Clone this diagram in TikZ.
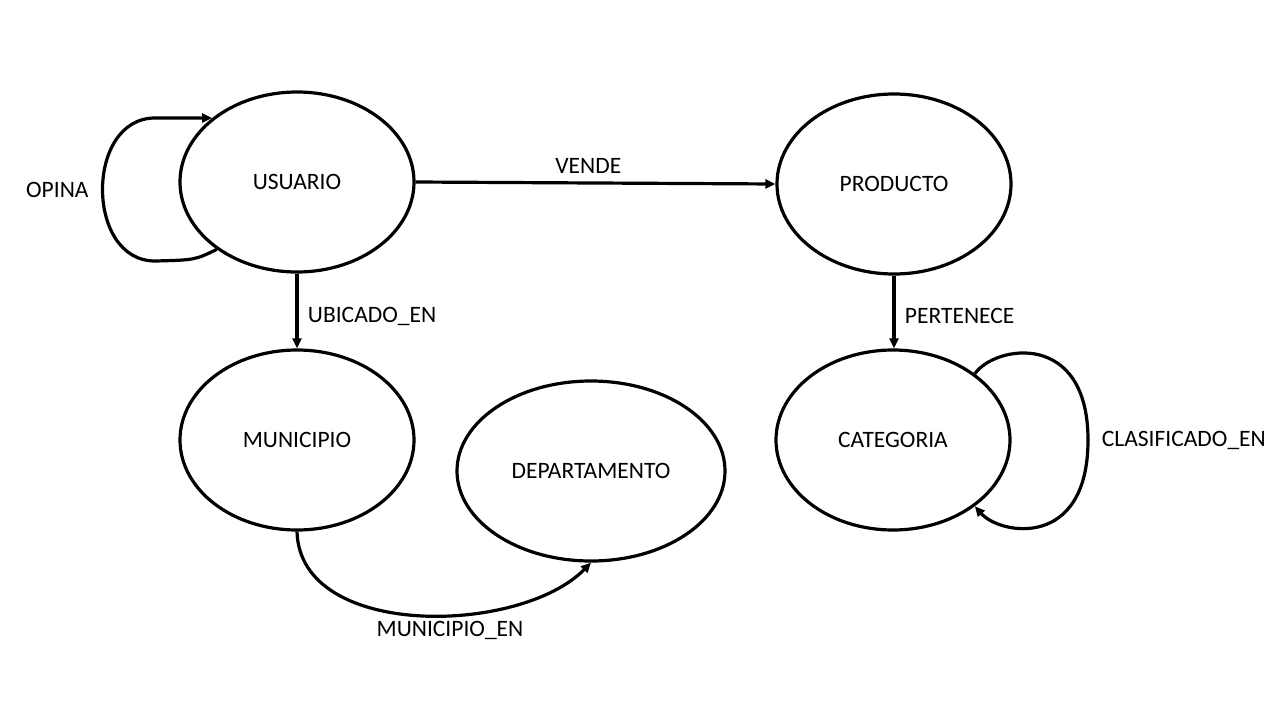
\documentclass[tikz,border=0pt]{standalone}
\usepackage{fontspec}
\setmainfont{Carlito}
\usetikzlibrary{arrows.meta,positioning,shapes.geometric}

\begin{document}
\begin{tikzpicture}[x=1pt,y=-1pt,
    entity/.style={draw, ellipse, line width=3.2pt, inner sep=0pt,
        minimum width=234pt, minimum height=180pt},
    rel/.style={line width=3.2pt, -{Triangle[length=10pt,width=9pt]}},
    every node/.style={font=\fontsize{23.5}{28}\selectfont}]
    % Canvas
    \useasboundingbox (0,0) rectangle (1280,720);
    \fill[white] (0,0) rectangle (1280,720);

    % Entities
    \node[entity] (usuario) at (297,182) {USUARIO};
    \node[entity] (producto) at (894,184) {PRODUCTO};
    \node[entity] (municipio) at (297,440) {MUNICIPIO};
    \node[entity, minimum width=268pt] (departamento) at (591,471) {DEPARTAMENTO};
    \node[entity] (categoria) at (893,440) {CATEGORIA};

    % Relations
    \draw[rel] (usuario.east) -- (producto.west) node[pos=0.48, above=5pt] {VENDE};
    \draw[rel] (usuario.south) -- (municipio.south |- municipio.north)
        node[pos=0.57, right=6pt] {UBICADO\_EN};
    \draw[rel] (producto.south) -- (categoria.north -| producto.south)
        node[pos=0.55, right=6pt] {PERTENECE};
    \draw[rel] (municipio.south) .. controls (300,640) and (520,635) .. (departamento.south);
    \node (munen) at (450,630) {MUNICIPIO\_EN};

    % Self loops
    \draw[rel] (usuario.220) .. controls (195,260) .. (155,261)
        .. controls (85,261) and (85,118) .. node[pos=0.5, left=9pt] {OPINA} (155,118)
        -- (usuario.143);
    \draw[rel] (categoria.39) .. controls (995,345) and (1088,330) .. (1088,440)
        node[right=9pt] {CLASIFICADO\_EN}
        .. controls (1088,550) and (1000,535) .. (categoria.-39);
\end{tikzpicture}
\end{document}
